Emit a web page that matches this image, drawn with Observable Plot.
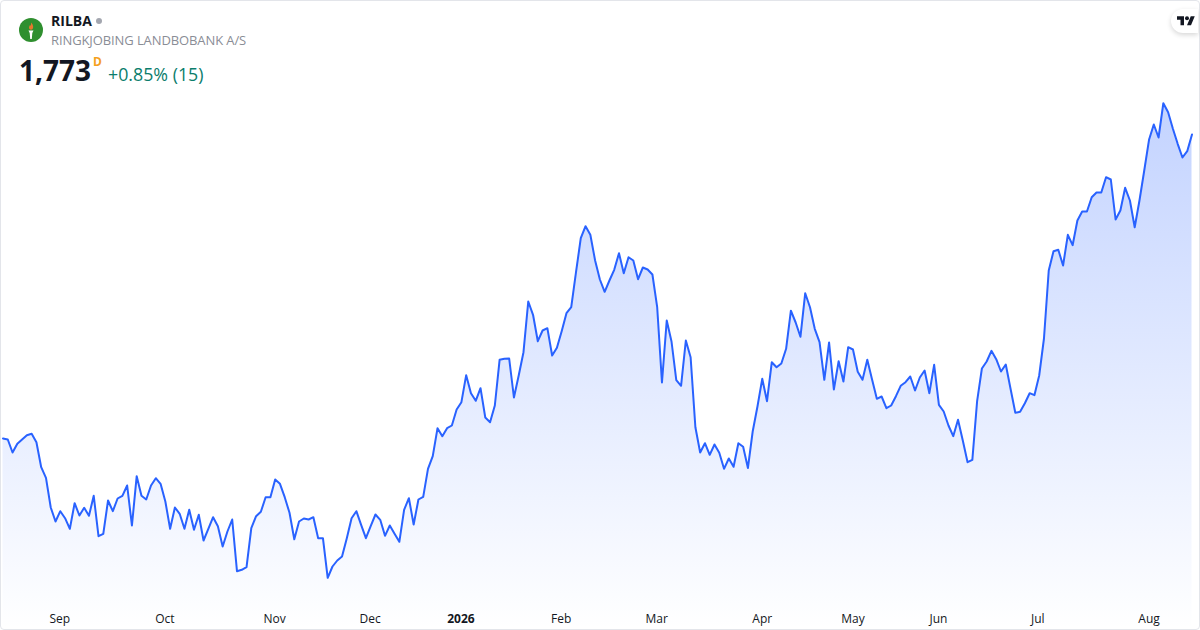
<!DOCTYPE html>
<html>
<head>
<meta charset="utf-8">
<script src="https://cdn.jsdelivr.net/npm/d3@7"></script>
<script src="https://cdn.jsdelivr.net/npm/@observablehq/plot@0.6"></script>
<style>
  html, body { margin: 0; padding: 0; background: #fff; }
  body { width: 1200px; height: 630px; overflow: hidden; position: relative; font-family: "Open Sans", sans-serif; }
  #chart { position: absolute; left: 0; top: 0; }
  #chart svg { display: block; }
  #card { position: absolute; left: 0; top: 0; width: 1198px; height: 628px; border: 1px solid #e3e5ea; border-radius: 4px; pointer-events: none; }
  .t { position: absolute; white-space: nowrap; line-height: 1; }
</style>
</head>
<body>
<div id="chart"></div>
<div id="card"></div>
<svg class="t" style="left:19px;top:18px" width="24" height="24" viewBox="0 0 24 24">
  <circle cx="12" cy="12" r="12" fill="#2f8f2f"/>
  <path d="M12 4.5c2.4 2.4 2.7 4.6 1.6 6.6c-.5 .8-2.7 .8-3.2 0C9.500 9.300 10.500 8 11 7c.3 .4 .5 .7 .6 1.100C12 6.800 12.200 5.700 12 4.500z" fill="#e8772e"/>
  <path d="M9.500 12.500h5l-1.200 2.500l-.5 6h-1.600l-.5-6z" fill="#fff"/>
</svg>
<div class="t" id="sym" style="left:51px;top:14px;font-size:14px;font-weight:700;color:#131722"></div>
<svg class="t" style="left:95px;top:17px" width="8" height="8"><circle cx="4" cy="4" r="3" fill="#a3a6af"/></svg>
<div class="t" id="nm" style="left:51px;top:34px;font-size:13px;color:#8a8d96;letter-spacing:-.1px"></div>
<div class="t" id="px" style="left:19px;top:56px;font-size:28px;font-weight:700;color:#131722"></div>
<div class="t" id="iv" style="left:93px;top:56px;font-size:12px;font-weight:700;color:#f5a01e"></div>
<div class="t" id="ch" style="left:108px;top:66px;font-size:17.8px;color:#0b7d6c"></div>
<div class="t" style="left:1171px;top:9px;width:27px;height:24px;background:#fff;border-radius:12px 0 0 12px;box-shadow:0 2px 5px rgba(0,0,0,.16)"></div>
<svg class="t" style="left:1177px;top:16px" width="18" height="9.500" viewBox="0 4 36 18">
  <path d="M14 22H7V11H0V4h14v18zM28 22h-8l7.500-18h8L28 22z" fill="#131722"/>
  <circle cx="20" cy="8" r="4" fill="#131722"/>
</svg>
<script>
const symbol = "RILBA";
const companyName = "RINGKJOBING LANDBOBANK A/S";
const lastPrice = "1,773";
const interval = "D";
const change = "+0.85% (15)";

const closes = [
1469,1468,1455,1463.7,1468,1472.3,1473.7,1465.3,1440.3,1429.7,
1400,1386,1396.3,1389.3,1378.7,1404.3,1392,1399.7,1391.7,1411.7,
1371.3,1373.7,1407,1396.3,1409,1411.7,1422,1382,1431.3,1411.7,
1408,1422,1429.3,1423.7,1406,1378.7,1400,1393.7,1378.7,1397.7,
1377.7,1392.7,1367,1378.7,1390.3,1381.3,1361,1376,1388,1336.3,
1337.7,1340.3,1379.3,1391.3,1395.7,1410.3,1410.3,1428,1423.7,1410.3,
1394.7,1368.3,1386,1389,1388,1390.3,1369.3,1369.3,1329.7,1341,
1347,1351,1369.3,1389.3,1396.3,1382.7,1369.3,1381.3,1393,1387.7,
1371.7,1382,1373.7,1365.7,1397.7,1409.3,1383,1408,1410.7,1438.7,
1451.3,1479.3,1471.3,1479.3,1482,1498,1505.3,1532.3,1514.3,1506.7,
1519.3,1490,1485.3,1502,1547.7,1548.7,1549,1510,1532,1555.3,
1606,1592.7,1566.3,1577,1579.3,1552,1559.7,1576.3,1594.3,1600.3,
1635.3,1669.3,1681.3,1672.7,1647,1628,1615.7,1627,1637.7,1654.3,
1634.3,1650.3,1647,1628.3,1640,1638,1633,1600.3,1525,1587,
1566,1527.3,1521.7,1567,1550.3,1480.3,1455,1464.3,1452.7,1463,
1454.7,1438.7,1449,1440.7,1464.3,1460.7,1439.5,1476,1501,1528.7,
1506.3,1545.3,1540.3,1544,1558.7,1596.8,1585,1570.7,1614.3,1600.3,
1578.7,1565.3,1527.7,1565,1518,1546.3,1526,1560.3,1558,1535.7,
1527.7,1547.7,1528,1508.7,1511,1499.3,1502,1511.3,1521.7,1525.3,
1531,1517,1530,1537,1514.3,1542.7,1502.7,1496,1482,1471.3,
1487.7,1467,1445.3,1447.7,1506.3,1539,1546,1556.7,1548.3,1536,
1543,1518.7,1494.7,1495.7,1504.3,1514.3,1512.3,1532,1569,1637,
1656.3,1657.7,1642,1672.7,1662.3,1687,1696,1696,1710.3,1715,
1715,1730.3,1728,1688,1697,1719.7,1707,1680.3,1707,1737,
1767.7,1783,1770,1804.3,1795.3,1778.7,1763.7,1750,1756.3,1773
];
const monthLabels = ["Sep","Oct","Nov","Dec","Feb","Mar","Apr","May","Jun","Jul","Aug"];
const monthBars = [11.9,33.9,56.9,76.9,116.9,136.9,159,178,195.9,216.7,240];
const yearLabels = ["2026"];
const yearBars = [95.9];

document.getElementById("sym").textContent = symbol;
document.getElementById("nm").textContent = companyName;
document.getElementById("px").textContent = lastPrice;
document.getElementById("iv").textContent = interval;
document.getElementById("ch").textContent = change;

const rows = closes.map((close, i) => ({i, close}));
const months = monthLabels.map((label, k) => ({label, bar: monthBars[k]}));
const years = yearLabels.map((label, k) => ({label, bar: yearBars[k]}));
const floor = 1277;

const gradient = () => {
  const defs = d3.create("svg:defs");
  const g = defs.append("linearGradient").attr("id", "fade").attr("x1", 0).attr("y1", 0).attr("x2", 0).attr("y2", 1);
  g.append("stop").attr("offset", "0%").attr("stop-color", "#2962ff").attr("stop-opacity", 0.28);
  g.append("stop").attr("offset", "100%").attr("stop-color", "#2962ff").attr("stop-opacity", 0);
  return defs.node();
};

const plot = Plot.plot({
  width: 1200,
  height: 630,
  marginTop: 0, marginBottom: 0, marginLeft: 2.5, marginRight: 8.5,
  style: {background: "transparent", fontFamily: "'Open Sans', sans-serif"},
  x: {domain: [0, closes.length - 1], axis: null},
  y: {domain: [floor, 1907], axis: null},
  marks: [
    gradient,
    Plot.areaY(rows, {x: "i", y1: floor, y2: "close", fill: "url(#fade)"}),
    Plot.lineY(rows, {x: "i", y: "close", stroke: "#2962ff", strokeWidth: 2, strokeLinejoin: "round"}),
    Plot.text(months, {x: "bar", text: "label", frameAnchor: "bottom", dy: -8, fontSize: 12, fill: "#131722", lineAnchor: "bottom"}),
    Plot.text(years, {x: "bar", text: "label", frameAnchor: "bottom", dy: -8, fontSize: 12, fontWeight: 700, fill: "#131722", lineAnchor: "bottom"})
  ]
});
document.getElementById("chart").appendChild(plot);
</script>
</body>
</html>
